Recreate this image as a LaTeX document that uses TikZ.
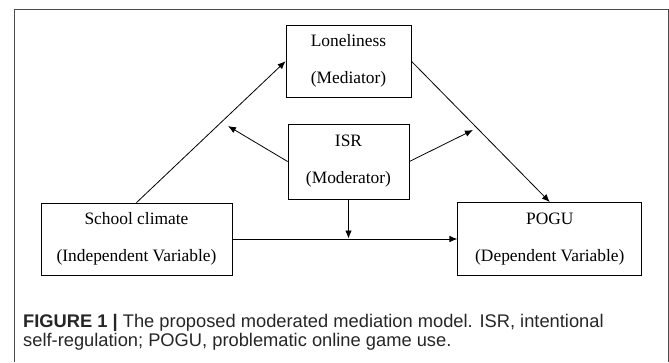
\documentclass[tikz,border=0pt]{standalone}
\usepackage{fontspec}
\setmainfont{Liberation Serif}
\newfontfamily\capfont{Liberation Sans}
\usepackage{tikz}
\usetikzlibrary{arrows.meta,positioning}

\begin{document}
\begin{tikzpicture}[
    x=1pt, y=-1pt,
    var/.style={draw, line width=0.8pt, align=center, inner sep=0pt, font=\fontsize{17.4}{37}\selectfont},
    arrow/.style={-{Latex[length=8pt,width=6.5pt]}, line width=0.8pt},
    frame/.style={draw=black!70, line width=1pt},
    node distance=26pt and 225pt
]
\useasboundingbox (0,0) rectangle (669,362);
\draw[frame] (14,362) -- (14,9.5) -- (668,9.5) -- (668,362);

\node[var, minimum width=121pt, minimum height=75pt] (isr) at (348.5,161.5) {ISR\\(Moderator)};
\node[var, minimum width=125pt, minimum height=72pt, above=of isr] (lonely) {Loneliness\\(Mediator)};
\node[var, minimum width=191pt, minimum height=72pt] (school) at (136.5,239) {School climate\\(Independent Variable)};
\node[var, minimum width=184pt, minimum height=73pt, right=of school] (pogu) {POGU\\(Dependent Variable)};

% moderation targets
\coordinate (modleft) at (228,126);
\coordinate (modright) at (473,130);
\coordinate (moddown) at (isr.south |- school.east);

\draw[arrow] (school.north) -- (lonely.west);
\draw[arrow] (lonely.east) -- (pogu.north);
\draw[arrow] (school.east) -- (pogu.west);
\draw[arrow] (isr.west) -- (modleft);
\draw[arrow] (isr.east) -- (modright);
\draw[arrow, shorten >=0.5pt] (isr.south) -- (moddown);

\node[anchor=north west, align=left, inner sep=0pt, text=black!85,
      font=\capfont\fontsize{18.3}{19}\selectfont] (caption) at (23,314)
  {\textbf{FIGURE 1} {\bfseries|} The proposed moderated mediation model. ISR, intentional\\
   self-regulation; POGU, problematic online game use.};
\end{tikzpicture}
\end{document}
